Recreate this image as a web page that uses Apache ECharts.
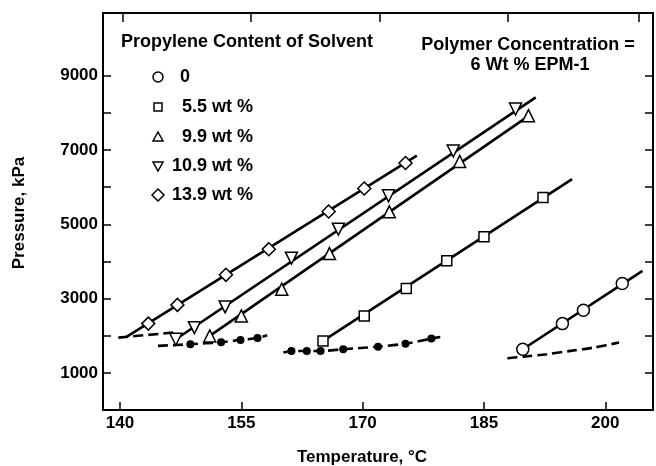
<!DOCTYPE html>
<html><head><meta charset="utf-8">
<script src="https://cdn.jsdelivr.net/npm/echarts@6/dist/echarts.min.js"></script>
<style>html,body{margin:0;padding:0;background:#fff}#c{width:656px;height:466px}</style>
</head><body><div id="c"></div>
<script>
// ---- data ----
const xTickValues = [140, 155, 170, 185, 200];
const xTopTickValues = [140.4, 156.2, 172.1, 188.0, 204.1];
const yTickValues = [1000, 2000, 3000, 4000, 5000, 6000, 7000, 8000, 9000];
const yLabelValues = [1000, 3000, 5000, 7000, 9000];

const legendNames = ['0', '5.5 wt %', '9.9 wt %', '10.9 wt %', '13.9 wt %'];

// measured points (Temperature °C, Pressure kPa)
const pts0    = [[189.8,1636],[194.7,2326],[197.3,2687],[202.1,3404]];
const pts5_5  = [[165.1,1860],[170.2,2534],[175.4,3270],[180.4,4016],[185.0,4663],[192.3,5723]];
const pts9_9  = [[151.1,1995],[155.0,2534],[160.0,3253],[165.9,4213],[173.3,5337],[182.0,6693],[190.5,7925]];
const pts10_9 = [[146.9,1905],[149.2,2218],[153.0,2776],[161.2,4089],[167.0,4870],[173.2,5768],[181.2,6975],[188.9,8105]];
const pts13_9 = [[143.5,2326],[147.1,2830],[153.1,3640],[158.4,4331],[165.8,5345],[170.2,5965],[175.3,6650]];

// fitted solid lines (end points)
const fit0    = [[189.8,1636],[204.6,3747]];
const fit5_5  = [[165.1,1860],[195.9,6218]];
const fit9_9  = [[151.1,1995],[190.8,7960]];
const fit10_9 = [[146.9,1905],[191.4,8418]];
const fit13_9 = [[140.8,1968],[176.7,6850]];

// filled-dot (cloud point) series
const dotsA = [[148.7,1772],[152.5,1825],[154.9,1888],[157.0,1938]];
const dotsB = [[161.2,1590],[163.1,1590],[164.8,1590],[167.6,1636],[171.9,1706],[175.3,1787],[178.5,1922]];

// dashed curves
const dashA = [[144.7,1727],[148.7,1772],[152.5,1825],[154.9,1888],[157.0,1938],[158.2,2010]];
const dashB = [[160.2,1546],[161.2,1590],[164.8,1590],[167.6,1636],[171.9,1706],[175.3,1787],[178.5,1922],[179.6,1968]];
const dashC = [[139.8,1950],[146.6,2085]];
const dashD = [[187.9,1395],[189.9,1438],[192.8,1503],[195.7,1592],[198.6,1681],[201.7,1816]];

// ---- chart ----
const FONT = 'Liberation Sans';
const INK = '#000';
const chart = echarts.init(document.getElementById('c'), null, {renderer: 'canvas'});

function solid(data) {
  return {type: 'line', data: data, symbol: 'none', silent: true, z: 2,
    lineStyle: {color: INK, width: 2.6}};
}
function dashed(data) {
  return {type: 'line', data: data, symbol: 'none', silent: true, z: 2, smooth: 0.3,
    lineStyle: {color: INK, width: 2.6, type: [10, 5]}};
}
function marks(data, symbol, size, rotate) {
  return {type: 'scatter', data: data, symbol: symbol, symbolSize: size, symbolRotate: rotate || 0,
    silent: true, z: 5, itemStyle: {color: '#fff', borderColor: INK, borderWidth: 1.5, opacity: 1}};
}
function filled(data) {
  return {type: 'scatter', data: data, symbol: 'circle', symbolSize: 8, silent: true, z: 5,
    itemStyle: {color: INK, opacity: 1}};
}

const lblFont = {fontFamily: FONT, fontWeight: 'bold', fontSize: 17, color: INK};
const plain = v => String(v);

const option = {
  backgroundColor: '#fff',
  animation: false,
  grid: {left: 103, right: 3, top: 13, bottom: 56, containLabel: false},
  xAxis: [{
    type: 'value', min: 137.9, max: 205.9, position: 'bottom',
    splitLine: {show: false},
    axisLine: {show: true, onZero: false, lineStyle: {color: INK, width: 2}},
    axisTick: {show: true, inside: true, length: 8, lineStyle: {color: INK, width: 1.5}, customValues: xTickValues},
    axisLabel: Object.assign({show: true, margin: 5, customValues: xTickValues, formatter: plain}, lblFont)
  }, {
    type: 'value', min: 137.9, max: 205.9, position: 'top',
    splitLine: {show: false},
    axisLine: {show: true, onZero: false, lineStyle: {color: INK, width: 2}},
    axisTick: {show: true, inside: true, length: 9, lineStyle: {color: INK, width: 1.5}, customValues: xTopTickValues},
    axisLabel: {show: false}
  }],
  yAxis: [{
    type: 'value', min: 0, max: 10690, position: 'left',
    splitLine: {show: false},
    axisLine: {show: true, onZero: false, lineStyle: {color: INK, width: 2}},
    axisTick: {show: true, inside: true, length: 8, lineStyle: {color: INK, width: 1.5}, customValues: yTickValues},
    axisLabel: Object.assign({show: true, margin: 5, customValues: yLabelValues, formatter: plain}, lblFont)
  }, {
    type: 'value', min: 0, max: 10690, position: 'right',
    splitLine: {show: false},
    axisLine: {show: true, onZero: false, lineStyle: {color: INK, width: 2}},
    axisTick: {show: true, inside: true, length: 8, lineStyle: {color: INK, width: 1.5}, customValues: yTickValues},
    axisLabel: {show: false}
  }],
  series: [
    solid(fit0), solid(fit5_5), solid(fit9_9), solid(fit10_9), solid(fit13_9),
    dashed(dashA), dashed(dashB), dashed(dashC), dashed(dashD),
    filled(dotsA), filled(dotsB),
    marks(pts0, 'circle', 12),
    marks(pts5_5, 'rect', 10),
    marks(pts9_9, 'triangle', 12),
    marks(pts10_9, 'triangle', 12, 180),
    marks(pts13_9, 'diamond', 13)
  ],
  graphic: []
};

// legend / annotations
const g = option.graphic;
const txtStyle = (text, x, y, align, size) => ({
  type: 'text', silent: true,
  style: {text: text, x: x, y: y, align: align, verticalAlign: 'middle',
    font: 'bold ' + (size || 18) + 'px "' + FONT + '"', fill: INK}
});
g.push(txtStyle('Propylene Content of Solvent', 121, 42, 'left'));
g.push(txtStyle('Polymer Concentration =', 528, 45, 'center'));
g.push(txtStyle('6 Wt % EPM-1', 530, 65, 'center'));
g.push(txtStyle('Temperature, °C', 362, 457, 'center', 17));
g.push({type: 'text', silent: true, x: 19, y: 213, rotation: Math.PI / 2,
  style: {text: 'Pressure, kPa', x: 0, y: 0, align: 'center', verticalAlign: 'middle',
    font: 'bold 17px "' + FONT + '"', fill: INK}});

const legendRowsY = [77, 107, 137, 166, 195];
const symX = 158;
const symStyle = {fill: '#fff', stroke: INK, lineWidth: 1.5};
// circle
g.push({type: 'circle', silent: true, shape: {cx: symX, cy: legendRowsY[0], r: 5}, style: symStyle});
// square
g.push({type: 'rect', silent: true, shape: {x: symX - 4, y: legendRowsY[1] - 4, width: 8, height: 8}, style: symStyle});
// triangle up
g.push({type: 'polygon', silent: true, shape: {points: [[symX, legendRowsY[2] - 5], [symX + 5, legendRowsY[2] + 4], [symX - 5, legendRowsY[2] + 4]]}, style: symStyle});
// triangle down
g.push({type: 'polygon', silent: true, shape: {points: [[symX - 5, legendRowsY[3] - 4], [symX + 5, legendRowsY[3] - 4], [symX, legendRowsY[3] + 5]]}, style: symStyle});
// diamond
g.push({type: 'polygon', silent: true, shape: {points: [[symX, legendRowsY[4] - 6], [symX + 6, legendRowsY[4]], [symX, legendRowsY[4] + 6], [symX - 6, legendRowsY[4]]]}, style: symStyle});

g.push(txtStyle(legendNames[0], 180, legendRowsY[0], 'left'));
for (let i = 1; i < legendNames.length; i++) {
  g.push(txtStyle(legendNames[i], 253, legendRowsY[i], 'right'));
}

chart.setOption(option);
</script>
</body></html>
